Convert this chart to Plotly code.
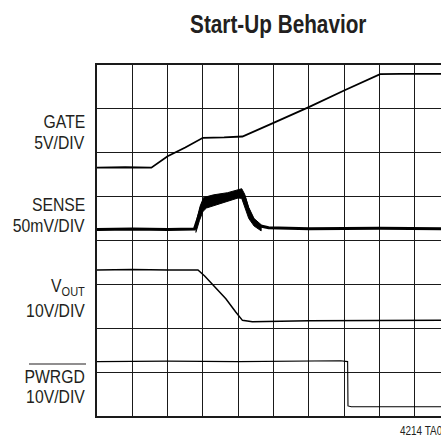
import plotly.graph_objects as go

# Scope capture, horizontal axis in divisions, vertical axis in divisions (8 rows)
gate_t = [0, 0.8, 1.54, 2.0, 2.5, 3.0, 3.6, 4.12, 5.0, 6.0, 7.0, 8.02, 8.6, 9.75]
gate_v = [5.66, 5.67, 5.66, 5.92, 6.12, 6.34, 6.35, 6.37, 6.68, 7.04, 7.42, 7.79, 7.80, 7.80]

sense_t = [0, 1.0, 2.0, 2.76, 2.86, 3.0, 3.5, 4.07, 4.17, 4.26, 4.4, 4.58, 4.86, 6.0, 8.0, 9.75]
sense_v = [4.25, 4.26, 4.25, 4.26, 4.5, 4.85, 4.95, 5.07, 5.0, 4.75, 4.49, 4.34, 4.29, 4.27, 4.28, 4.27]

# noisy envelope of the current-sense pulse
pulse_up_t = [2.78, 2.92, 3.02, 3.3, 3.7, 4.0, 4.1, 4.18, 4.3, 4.45, 4.65]
pulse_up_v = [4.32, 4.78, 4.98, 5.04, 5.09, 5.15, 5.18, 5.06, 4.75, 4.5, 4.36]
pulse_lo_t = [4.65, 4.45, 4.3, 4.2, 4.1, 4.0, 3.5, 3.1, 3.0, 2.9, 2.8]
pulse_lo_v = [4.22, 4.33, 4.5, 4.75, 4.96, 4.97, 4.85, 4.74, 4.66, 4.45, 4.18]

vout_t = [0, 1.0, 2.0, 2.86, 3.05, 3.37, 3.65, 3.93, 4.12, 4.4, 6.0, 9.75]
vout_v = [3.33, 3.34, 3.33, 3.33, 3.19, 2.92, 2.67, 2.37, 2.18, 2.15, 2.17, 2.18]

pwrgd_t = [0, 2.0, 4.0, 6.9, 7.1, 7.11, 7.2, 9.75]
pwrgd_v = [1.24, 1.25, 1.24, 1.26, 1.24, 0.23, 0.21, 0.21]

labels = [
    ("GATE", 121.7), ("5V/DIV", 142.0),
    ("SENSE", 205.0), ("50mV/DIV", 225.0),
    ("V<sub>OUT</sub>", 286.5), ("10V/DIV", 310.5),
    ("PWRGD", 376.7), ("10V/DIV", 396.7),
]
title_text = "Start-Up Behavior"
figure_code = "4214 TA01"

W, H = 441, 435
LEFT, TOP, BOTTOM = 97, 65, 416
PX_PER_DIV = 35.3
X_MAX = (W - LEFT) / PX_PER_DIV
NARROW = 0.83  # horizontal squeeze giving a condensed Helvetica look

FONT = "Liberation Sans, Arial, Helvetica, sans-serif"
INK = "#231f20"


def paper_x(px):
    return (px - LEFT) / (W - LEFT)


def paper_y(py):
    return (BOTTOM - py) / (BOTTOM - TOP)


fig = go.Figure()

fig.add_trace(go.Scatter(x=pulse_up_t + pulse_lo_t, y=pulse_up_v + pulse_lo_v,
                         fill="toself", fillcolor="black", mode="lines",
                         line=dict(color="black", width=1), hoverinfo="skip"))
fig.add_trace(go.Scatter(x=sense_t, y=sense_v, mode="lines",
                         line=dict(color="black", width=3)))
fig.add_trace(go.Scatter(x=gate_t, y=gate_v, mode="lines",
                         line=dict(color="black", width=1.8)))
fig.add_trace(go.Scatter(x=vout_t, y=vout_v, mode="lines",
                         line=dict(color="black", width=1.5)))
fig.add_trace(go.Scatter(x=pwrgd_t, y=pwrgd_v, mode="lines",
                         line=dict(color="black", width=1.1)))

annotations = []
for text, py in labels:
    annotations.append(dict(text=text, xref="paper", yref="paper",
                            x=paper_x(87), y=paper_y(py), xanchor="right", yanchor="middle",
                            showarrow=False, font=dict(family=FONT, size=19, color=INK)))
annotations.append(dict(text="<b>" + title_text + "</b>", xref="paper", yref="paper",
                        x=paper_x(278), y=paper_y(24), xanchor="center", yanchor="middle",
                        showarrow=False, font=dict(family=FONT, size=25, color=INK)))
annotations.append(dict(text=figure_code, xref="paper", yref="paper",
                        x=paper_x(398), y=paper_y(431), xanchor="left", yanchor="middle",
                        showarrow=False, font=dict(family=FONT, size=12, color=INK)))

# bar over the active-low PWRGD name
shapes = [dict(type="line", xref="paper", yref="paper",
               x0=paper_x(29), x1=paper_x(86), y0=paper_y(364), y1=paper_y(364),
               line=dict(color=INK, width=1.2))]

fig.update_layout(
    width=W, height=H,
    margin=dict(l=LEFT, r=0, t=TOP, b=H - BOTTOM, pad=0),
    paper_bgcolor="white", plot_bgcolor="white",
    showlegend=False,
    annotations=annotations, shapes=shapes,
    xaxis=dict(range=[0, X_MAX], dtick=1, tick0=0, showgrid=True, gridcolor="#1a1a1a",
               gridwidth=1, zeroline=False, showticklabels=False, ticks="",
               showline=True, mirror=True, linecolor="#1a1a1a", linewidth=1.5, fixedrange=True),
    yaxis=dict(range=[0, 8], dtick=1, tick0=0, showgrid=True, gridcolor="#1a1a1a",
               gridwidth=1, zeroline=False, showticklabels=False, ticks="",
               showline=True, mirror=False, linecolor="#1a1a1a", linewidth=1.5, fixedrange=True),
)

# squeeze annotation text horizontally, keeping each text's anchor edge fixed
squeeze_js = """
var gd = document.getElementById('{plot_id}');
function squeeze() {
  var texts = gd.querySelectorAll('.annotation-text');
  var n = texts.length;
  texts.forEach(function (t, i) {
    var origin = 'right center';
    if (i === n - 2) origin = 'center center';
    if (i === n - 1) origin = 'left center';
    t.style.transformBox = 'fill-box';
    t.style.transformOrigin = origin;
    t.style.transform = 'scaleX(%s)';
  });
}
squeeze();
gd.on('plotly_afterplot', squeeze);
""" % NARROW

fig.write_html("out.html", config={"displayModeBar": False}, post_script=squeeze_js)
